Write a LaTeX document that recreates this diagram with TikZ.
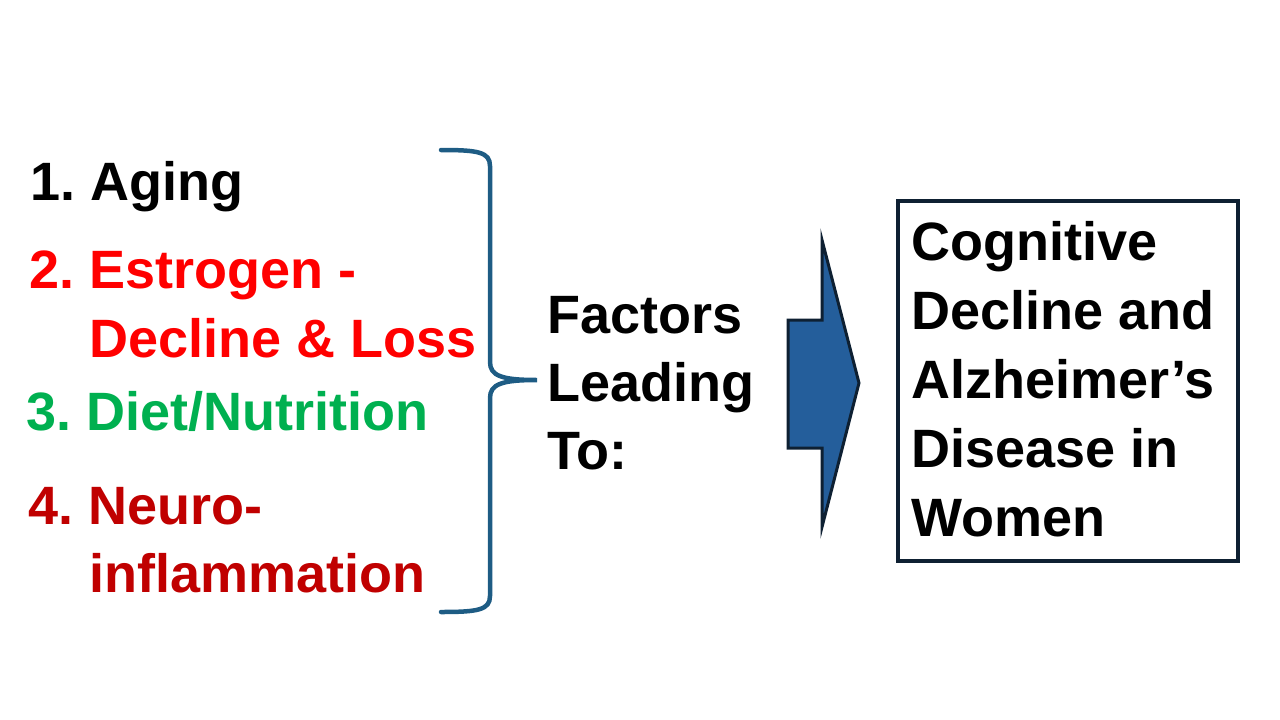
\documentclass[tikz,border=0pt]{standalone}
\usepackage{fontspec}
\setmainfont{Liberation Sans}
\frenchspacing
\definecolor{txtred}{RGB}{255,0,0}
\definecolor{txtgreen}{RGB}{0,176,80}
\definecolor{txtdred}{RGB}{192,0,0}
\definecolor{bracecol}{RGB}{30,92,132}
\definecolor{arrowfill}{RGB}{36,94,155}
\definecolor{navy}{RGB}{14,32,50}
\begin{document}
\begin{tikzpicture}[x=1pt,y=-1pt,
  lbl/.style={anchor=base west,inner sep=0pt,font=\bfseries\fontsize{54}{69}\selectfont},
  bracestyle/.style={draw=bracecol,line width=4.5pt,line cap=round},
  arrowstyle/.style={draw=navy,fill=arrowfill,line width=3pt,line join=miter},
  boxstyle/.style={draw=navy,line width=4.5pt}]
\useasboundingbox (0,0) rectangle (1280,720);
% left list
\node[lbl] (a1) at (30,200) {1. Aging};
\node[lbl,text=txtred] (a2) at (29,288) {2. Estrogen -};
\node[lbl,text=txtred] (a2b) at (89,357) {Decline \& Loss};
\node[lbl,text=txtgreen] (a3) at (26,430) {3. Diet/Nutrition};
\node[lbl,text=txtdred] (a4) at (28,524) {4. Neuro-};
\node[lbl,text=txtdred] (a4b) at (89,592) {inflammation};
% brace
\coordinate (btop) at (441,150);
\coordinate (btip) at (537,380);
\coordinate (bbot) at (441,612);
\draw[bracestyle] (btop) .. controls (478,150) and (490,152) .. (490,166)
  -- (490,362) .. controls (490,376) and (502,380) .. (btip)
  .. controls (502,380) and (490,384) .. (490,398)
  -- (490,596) .. controls (490,610) and (478,612) .. (bbot);
% middle text
\node[lbl] (f1) at (547,333) {Factors};
\node[lbl] (f2) at (547,401) {Leading};
\node[lbl] (f3) at (547,469) {To:};
% block arrow
\draw[arrowstyle] (788,320) -- (822,320) -- (822,240) -- (859,383) -- (822,527) -- (822,448) -- (788,448) -- cycle;
% result box
\draw[boxstyle] (898,201) rectangle (1238,561);
\node[lbl] (r1) at (911,260) {Cognitive};
\node[lbl] (r2) at (911,329) {Decline and};
\node[lbl] (r3) at (911,398) {Alzheimer’s};
\node[lbl] (r4) at (911,467) {Disease in};
\node[lbl] (r5) at (911,536) {Women};
\end{tikzpicture}
\end{document}
